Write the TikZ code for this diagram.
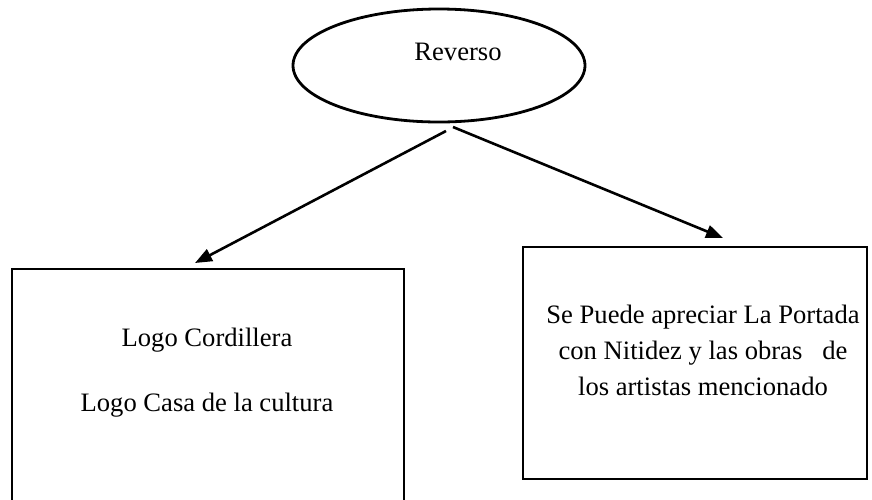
\documentclass[tikz,border=0pt]{standalone}
\usepackage{fontspec}
\setmainfont{Liberation Serif}
\usetikzlibrary{shapes.geometric,arrows.meta}
\begin{document}
\begin{tikzpicture}[x=1pt,y=-1pt,
  shapeline/.style={draw=black,line width=2.8pt},
  txt/.style={font=\fontsize{26.6}{36}\selectfont,inner sep=0pt,align=center},
  conn/.style={line width=2.6pt,-{Triangle[length=17pt,width=13pt]}}]
\useasboundingbox (0,0) rectangle (872,499);
\node[shapeline,ellipse,minimum width=292pt,minimum height=113pt,inner sep=0pt] (rev) at (439,65.5) {};
\node[txt,anchor=base] (revt) at (458,60) {Reverso};
\node[shapeline,rectangle,minimum width=392pt,minimum height=262pt,inner sep=0pt] (lbox) at (208,400) {};
\node[txt,anchor=base] (l1) at (207,346) {Logo Cordillera};
\node[txt,anchor=base] (l2) at (207,411) {Logo Casa de la cultura};
\node[shapeline,rectangle,minimum width=344pt,minimum height=232pt,inner sep=0pt] (rbox) at (695,363) {};
\node[txt,anchor=base] (r1) at (703,395) {Se Puede apreciar La Portada\\con Nitidez y las obras\ \ \ de\\los artistas mencionado};
\coordinate (s1) at (446,131);
\coordinate (s2) at (453,127);
\coordinate (t1) at (195,263);
\coordinate (t2) at (723,238);
\draw[conn] (s1) -- (t1);
\draw[conn] (s2) -- (t2);
\end{tikzpicture}
\end{document}
